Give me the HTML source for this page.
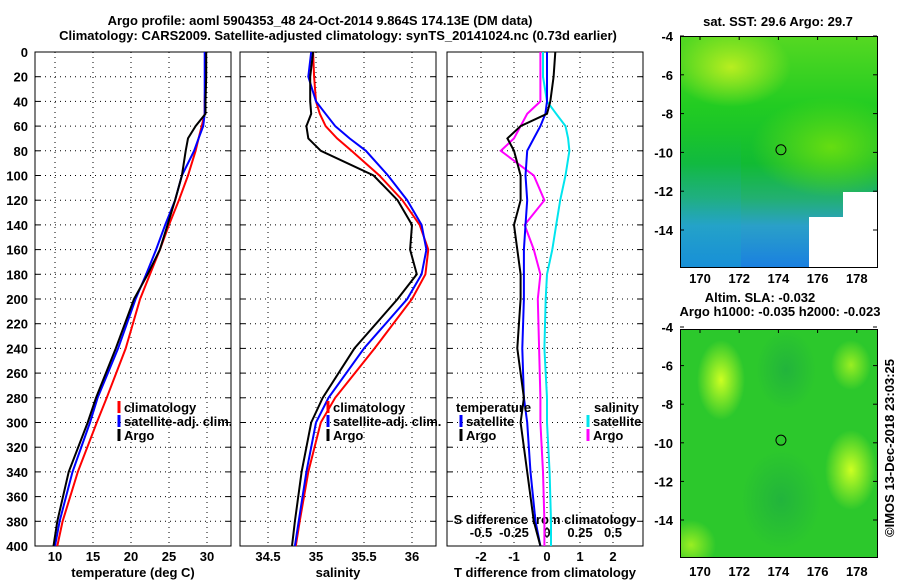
<!DOCTYPE html>
<html><head><meta charset="utf-8"><style>
body{margin:0;background:#fff;width:900px;height:580px;overflow:hidden;font-family:"Liberation Sans",sans-serif}
svg text{font-family:"Liberation Sans",sans-serif;font-weight:bold;font-size:13px;fill:#000}
.map{position:absolute;border:1px solid #000;box-sizing:border-box;overflow:hidden}
</style></head><body>
<div class="map" style="left:680px;top:36px;width:198px;height:232px;background:
radial-gradient(ellipse 60px 40px at 50px 30px,#b8ee20,transparent),
radial-gradient(ellipse 80px 50px at 150px 110px,#66dd11,transparent),
linear-gradient(180deg,#55d822 0%,#22cc22 30%,#11bb33 55%,#22b070 70%,#2aa0c8 82%,#1a80e0 100%);">
<div style="position:absolute;left:162px;top:155px;width:36px;height:77px;background:#fff"></div>
<div style="position:absolute;left:128px;top:180px;width:40px;height:52px;background:#fff"></div>
<div style="position:absolute;left:0;top:96px;width:60px;height:140px;background:linear-gradient(180deg,transparent,rgba(20,170,200,0.4))"></div>
</div>
<div class="map" style="left:680px;top:329px;width:198px;height:229px;background:
radial-gradient(ellipse 24px 40px at 40px 50px,#ccff22,transparent),
radial-gradient(ellipse 26px 40px at 170px 140px,#ccff22,transparent),
radial-gradient(ellipse 20px 25px at 170px 35px,#99ee22,transparent),
radial-gradient(ellipse 25px 25px at 10px 215px,#99ee22,transparent),
radial-gradient(ellipse 40px 50px at 100px 170px,#22b43c,transparent),
radial-gradient(ellipse 30px 40px at 105px 40px,#22b43c,transparent),
#2cc82c;"></div>
<svg id="c" width="900" height="580" style="position:absolute;left:0;top:0"></svg>
<script>
// ---- data ----
const depths=[0,20,40,50,60,70,80,100,120,140,160,180,200,240,280,300,340,380,400];
const tClim=[29.8,29.8,29.7,29.7,29.3,28.9,28.5,27.5,26.3,25.0,23.8,22.5,21.2,19.3,16.8,15.5,13.0,11.0,10.3];
const tSat=[29.7,29.7,29.7,29.7,29.5,28.9,28.3,26.7,25.8,24.5,23.3,22.0,20.6,18.3,15.6,14.6,12.3,10.6,10.0];
const tArgo=[29.9,29.9,29.8,29.8,28.5,27.5,27.2,26.7,25.8,24.8,23.8,22.2,20.4,18.0,15.4,14.3,11.8,10.3,9.8];
const sClim=[34.97,34.98,35.0,35.04,35.1,35.22,35.37,35.66,35.9,36.08,36.17,36.14,36.0,35.61,35.2,35.05,34.92,34.83,34.79];
const sSat=[34.95,34.92,35.0,35.1,35.2,35.35,35.52,35.75,35.95,36.1,36.15,36.1,35.95,35.5,35.13,35.0,34.9,34.82,34.78];
const sArgo=[34.97,34.94,34.94,34.95,34.9,34.92,35.05,35.6,35.85,36.0,35.98,36.05,35.85,35.4,35.07,34.95,34.85,34.78,34.75];
const dTSat=[0,0,0,-0.05,-0.2,-0.4,-0.6,-0.65,-0.6,-0.65,-0.7,-0.7,-0.7,-0.75,-0.7,-0.6,-0.5,-0.35,-0.2];
const dTArgo=[0.25,0.2,0.1,0.0,-0.8,-1.2,-1.0,-0.8,-0.8,-1.0,-0.9,-0.8,-0.8,-0.9,-0.7,-0.8,-0.6,-0.4,-0.2];
const dSSat=[-0.03,-0.03,0.0,0.07,0.14,0.16,0.17,0.14,0.1,0.07,0.04,0.0,-0.01,-0.02,0.0,0.0,0.02,0.03,0.03];
const dSArgo=[-0.05,-0.05,-0.05,-0.15,-0.2,-0.25,-0.35,-0.1,-0.02,-0.17,-0.1,-0.05,-0.07,-0.06,-0.05,-0.05,-0.03,-0.02,-0.02];
const depthTicks=[0,20,40,60,80,100,120,140,160,180,200,220,240,260,280,300,320,340,360,380,400];
const tTicks=[10,15,20,25,30], sTicks=[34.5,35,35.5,36], dTTicks=[-2,-1,0,1,2], dSTicks=[-0.5,-0.25,0,0.25,0.5];
const lonTicks=[170,172,174,176,178], latTicks=[-4,-6,-8,-10,-12,-14];
// ---- drawing ----
const svg=document.getElementById('c');const NS='http://www.w3.org/2000/svg';
function el(t,a,p){const e=document.createElementNS(NS,t);for(const k in a)e.setAttribute(k,a[k]);(p||svg).appendChild(e);return e;}
function txt(x,y,s,anchor,name,extra){const e=el('text',Object.assign({x:x,y:y,'text-anchor':anchor||'middle'},extra||{}));e.textContent=s;


return e;}
const Y0=52,Y1=546;const yD=d=>Y0+d/400*(Y1-Y0);
function panel(x0,x1,xs,ticks,name){
 const g=el('g',{});
 
 
 ticks.forEach(v=>el('line',{x1:xs(v),x2:xs(v),y1:Y0,y2:Y1,stroke:'#000','stroke-dasharray':'1,4'},g));
 depthTicks.forEach(d=>{el('line',{x1:x0,x2:x1,y1:yD(d),y2:yD(d),stroke:'#000','stroke-dasharray':'1,4'},g);
  el('line',{x1:x0,x2:x0+5,y1:yD(d),y2:yD(d),stroke:'#000'},g);el('line',{x1:x1-5,x2:x1,y1:yD(d),y2:yD(d),stroke:'#000'},g);});
 el('rect',{x:x0,y:Y0,width:x1-x0,height:Y1-Y0,fill:'none',stroke:'#000'},g);
 return g;}
function line(vals,xs,col,name){const p=vals.map((v,i)=>xs(v).toFixed(1)+','+yD(depths[i]).toFixed(1)).join(' ');
 const e=el('polyline',{points:p,fill:'none',stroke:col,'stroke-width':2});
 
 }
const xT=v=>55+(v-10)*7.6, xS=v=>268+(v-34.5)*96, xDT=v=>547+v*33, xDS=v=>547+v*132;
panel(35,231,xT,tTicks,'temperature-panel');panel(240,436,xS,sTicks,'salinity-panel');panel(447,643,xDT,dTTicks,'difference-panel');
depthTicks.forEach(d=>txt(28,yD(d)+5,String(d),'end','depth-tick-label'));
tTicks.forEach(v=>txt(xT(v),561,String(v),'middle','temperature-tick-label'));
sTicks.forEach(v=>txt(xS(v),561,String(v),'middle','salinity-tick-label'));
dTTicks.forEach(v=>txt(xDT(v),561,String(v),'middle','t-diff-tick-label'));
dSTicks.forEach(v=>txt(xDS(v),537,String(v),'middle','s-diff-tick-label'));
txt(133,577,'temperature (deg C)','middle','x-axis-title-temperature');
txt(338,577,'salinity','middle','x-axis-title-salinity');
txt(545,577,'T difference from climatology','middle','x-axis-title-t-diff');
txt(545,524,'S difference from climatology','middle','x-axis-title-s-diff');
txt(320,25,'Argo profile: aoml 5904353_48 24-Oct-2014 9.864S 174.13E (DM data)','middle','chart-title-line1',{'font-size':'14px'});
txt(338,40,'Climatology: CARS2009. Satellite-adjusted climatology: synTS_20141024.nc (0.73d earlier)','middle','chart-title-line2',{'font-size':'14px'});
line(tClim,xT,'#f00','temp-climatology');line(tSat,xT,'#00f','temp-satellite');line(tArgo,xT,'#000','temp-argo');
line(sClim,xS,'#f00','sal-climatology');line(sSat,xS,'#00f','sal-satellite');line(sArgo,xS,'#000','sal-argo');
line(dSSat,xDS,'#00e5ee','s-diff-satellite');line(dSArgo,xDS,'#f0f','s-diff-argo');
line(dTSat,xDT,'#00f','t-diff-satellite');line(dTArgo,xDT,'#000','t-diff-argo');
function leg(x,y,col,label,name){el('line',{x1:x,x2:x,y1:y-11,y2:y+1,stroke:col,'stroke-width':3});txt(x+5,y,label,'start',name,{'font-size':'12px'});}
[[119,'temperature'],[328,'salinity']].forEach(([x,n])=>{leg(x,412,'#f00','climatology','legend-climatology-'+n);leg(x,426,'#00f','satellite-adj. clim.','legend-satellite-'+n);leg(x,440,'#000','Argo','legend-argo-'+n);});
txt(456,412,'temperature','start','legend-title-temperature',{'font-size':'12px'});
leg(461,426,'#00f','satellite','legend-t-diff-satellite');leg(461,440,'#000','Argo','legend-t-diff-argo');
txt(594,412,'salinity','start','legend-title-salinity',{'font-size':'12px'});
leg(588,426,'#00e5ee','satellite','legend-s-diff-satellite');leg(588,440,'#f0f','Argo','legend-s-diff-argo');
// maps
const xL=v=>700+(v-170)*19.6;
function mapAxes(top,latScale,lat0y){
 lonTicks.forEach(v=>{el('line',{x1:xL(v),x2:xL(v),y1:top,y2:top+4,stroke:'#000'});});
 latTicks.forEach(v=>{const y=lat0y+(-4-v)*latScale;el('line',{x1:680,x2:684,y1:y,y2:y,stroke:'#000'});el('line',{x1:873,x2:877,y1:y,y2:y,stroke:'#000'});txt(673,y+5,String(v),'end','map-lat-label');});
}
mapAxes(36,19.4,36);mapAxes(329,19.3,327);
lonTicks.forEach(v=>{txt(xL(v),283,String(v),'middle','map1-lon-label');txt(xL(v),576,String(v),'middle','map2-lon-label');});
txt(778,26,'sat. SST: 29.6 Argo: 29.7','middle','map1-title');
txt(760,302,'Altim. SLA: -0.032','middle','map2-title-line1');
txt(780,316,'Argo h1000: -0.035 h2000: -0.023','middle','map2-title-line2');
const m1=el('circle',{cx:xL(174.13),cy:36+(9.864-4)*19.4,r:5,fill:'none',stroke:'#000'});


const m2=el('circle',{cx:xL(174.13),cy:327+(9.864-4)*19.3,r:5,fill:'none',stroke:'#000'});


txt(0,0,'©IMOS 13-Dec-2018 23:03:25','middle','copyright-label',{'font-weight':'normal','font-size':'13px',transform:'translate(894,448) rotate(-90)'});
</script>
</body></html>
